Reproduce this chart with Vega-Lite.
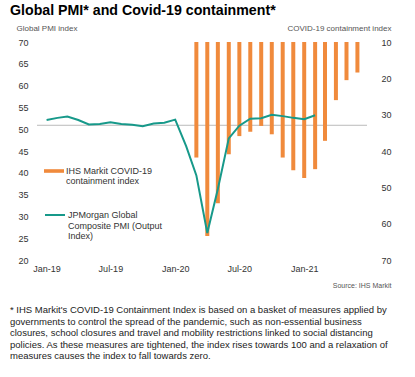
{
  "$schema": "https://vega.github.io/schema/vega-lite/v6.json",
  "padding": {"left": 10, "top": 3, "right": 5, "bottom": 5},
  "background": "white",
  "config": {
    "font": "Liberation Sans",
    "view": {"stroke": null},
    "axis": {"grid": false, "domain": false, "ticks": false, "tickSize": 0, "labelFont": "Liberation Sans", "titleFont": "Liberation Sans", "labelColor": "#333333", "titleColor": "#555555", "titleFontWeight": "normal"}
  },
  "title": {
    "text": [
      "* IHS Markit's COVID-19 Containment Index is based on a basket of measures applied by",
      "governments to control the spread of the pandemic, such as non-essential business",
      "closures, school closures and travel and mobility restrictions linked to social distancing",
      "policies. As these measures are tightened, the index rises towards 100 and a relaxation of",
      "measures causes the index to fall towards zero."
    ],
    "orient": "bottom",
    "anchor": "start",
    "frame": "bounds",
    "font": "Liberation Sans",
    "fontSize": 9.5,
    "fontWeight": "normal",
    "color": "#222222",
    "lineHeight": 11.5,
    "offset": 17
  },
  "vconcat": [
    {
      "width": 330,
      "height": 218,
      "title": {
        "text": "Global PMI* and Covid-19 containment*",
        "anchor": "start",
        "frame": "group",
        "dx": -27,
        "font": "Liberation Sans",
        "fontSize": 14.2,
        "fontWeight": "bold",
        "color": "#000000",
        "offset": 6
      },
      "layer": [
        {
          "data": {"values": [{"ref": 50.9}]},
          "mark": {"type": "rule", "color": "#BBBBBB", "strokeWidth": 1},
          "encoding": {
            "y": {"field": "ref", "type": "quantitative", "scale": {"domain": [20, 70], "nice": false, "zero": false}, "axis": null}
          }
        },
        {
          "data": {"name": "main"},
          "mark": {"type": "bar", "size": 4},
          "transform": [{"filter": "datum.cont != null"}],
          "encoding": {
            "x": {
              "field": "date",
              "type": "temporal",
              "scale": {"domain": ["2018-12-19", "2021-06-14"]},
              "axis": {
                "values": ["2019-01-01", "2019-07-01", "2020-01-01", "2020-07-01", "2021-01-01"],
                "format": "%b-%y",
                "labelFontSize": 9,
                "labelPadding": 4,
                "labelColor": "#333333",
                "title": "Source: IHS Markit",
                "titleFontSize": 7,
                "titleColor": "#555555",
                "titleAnchor": "end",
                "titleAlign": "right",
                "titleX": 354,
                "titleY": 21
              }
            },
            "y": {
              "field": "cont",
              "type": "quantitative",
              "scale": {"domain": [10, 70], "reverse": true, "nice": false, "zero": false},
              "axis": {
                "orient": "right",
                "values": [10, 20, 30, 40, 50, 60, 70],
                "labelFontSize": 9,
                "labelAlign": "right",
                "labelPadding": 24,
                "title": "COVID-19 containment index",
                "titleFontSize": 8,
                "titleAngle": 0,
                "titleAlign": "right",
                "titleBaseline": "middle",
                "titleX": 24,
                "titleY": -14
              }
            },
            "y2": {"datum": 10},
            "color": {
              "datum": "IHS Markit COVID-19|containment index",
              "type": "nominal",
              "scale": {"range": ["#F08A3C"]},
              "legend": {
                "orient": "none",
                "legendX": 7,
                "legendY": 119,
                "title": null,
                "padding": 0,
                "symbolType": "M-1,-0.18H1V0.18H-1Z",
                "symbolSize": 400,
                "symbolStrokeWidth": 0,
                "labelExpr": "split(datum.label, '|')",
                "labelFont": "Liberation Sans",
                "labelFontSize": 9,
                "labelColor": "#333333",
                "labelBaseline": "alphabetic",
                "labelLimit": 0,
                "labelOffset": 2,
                "encode": {"labels": {"update": {"dy": {"value": 3.2}, "lineHeight": {"value": 10.2}}}}
              }
            }
          }
        },
        {
          "data": {"name": "main"},
          "mark": {"type": "line", "strokeWidth": 2},
          "transform": [{"filter": "datum.pmi != null"}],
          "encoding": {
            "x": {"field": "date", "type": "temporal"},
            "y": {
              "field": "pmi",
              "type": "quantitative",
              "scale": {"domain": [20, 70], "nice": false, "zero": false},
              "axis": {
                "orient": "left",
                "values": [20, 25, 30, 35, 40, 45, 50, 55, 60, 65, 70],
                "labelFontSize": 9,
                "labelAlign": "left",
                "labelPadding": 19,
                "title": "Global PMI index",
                "titleFontSize": 8,
                "titleAngle": 0,
                "titleAlign": "left",
                "titleBaseline": "middle",
                "titleX": -21,
                "titleY": -14
              }
            },
            "stroke": {
              "datum": "JPMorgan Global|Composite PMI (Output|Index)",
              "type": "nominal",
              "scale": {"range": ["#17998A"]},
              "legend": {
                "orient": "none",
                "legendX": 7,
                "legendY": 162,
                "title": null,
                "padding": 0,
                "symbolType": "stroke",
                "symbolSize": 400,
                "symbolStrokeWidth": 2,
                "labelExpr": "split(datum.label, '|')",
                "labelFont": "Liberation Sans",
                "labelFontSize": 9,
                "labelColor": "#333333",
                "labelBaseline": "alphabetic",
                "labelLimit": 0,
                "labelOffset": 2,
                "encode": {"labels": {"update": {"dy": {"value": 3.2}, "lineHeight": {"value": 10.5}}}}
              }
            }
          }
        }
      ],
      "resolve": {"scale": {"y": "independent"}, "axis": {"y": "independent"}}
    }
  ],
  "datasets": {
    "main": [
      {"date": "2019-01-01", "pmi": 52.1, "cont": null},
      {"date": "2019-02-01", "pmi": 52.6, "cont": null},
      {"date": "2019-03-01", "pmi": 52.9, "cont": null},
      {"date": "2019-04-01", "pmi": 52.1, "cont": null},
      {"date": "2019-05-01", "pmi": 51.1, "cont": null},
      {"date": "2019-06-01", "pmi": 51.2, "cont": null},
      {"date": "2019-07-01", "pmi": 51.6, "cont": null},
      {"date": "2019-08-01", "pmi": 51.2, "cont": null},
      {"date": "2019-09-01", "pmi": 51.0, "cont": null},
      {"date": "2019-10-01", "pmi": 50.7, "cont": null},
      {"date": "2019-11-01", "pmi": 51.3, "cont": null},
      {"date": "2019-12-01", "pmi": 51.5, "cont": null},
      {"date": "2020-01-01", "pmi": 52.2, "cont": null},
      {"date": "2020-02-01", "pmi": 46.1, "cont": null},
      {"date": "2020-03-01", "pmi": 39.4, "cont": 41.8},
      {"date": "2020-04-01", "pmi": 26.2, "cont": 63.4},
      {"date": "2020-05-01", "pmi": 36.3, "cont": 54.4},
      {"date": "2020-06-01", "pmi": 47.9, "cont": 40.9},
      {"date": "2020-07-01", "pmi": 50.8, "cont": 35.9},
      {"date": "2020-08-01", "pmi": 52.4, "cont": 34.7},
      {"date": "2020-09-01", "pmi": 52.5, "cont": 33.1},
      {"date": "2020-10-01", "pmi": 53.3, "cont": 35.4},
      {"date": "2020-11-01", "pmi": 53.0, "cont": 41.8},
      {"date": "2020-12-01", "pmi": 52.6, "cont": 45.3},
      {"date": "2021-01-01", "pmi": 52.3, "cont": 47.4},
      {"date": "2021-02-01", "pmi": 53.2, "cont": 45.0},
      {"date": "2021-03-01", "pmi": null, "cont": 37.2},
      {"date": "2021-04-01", "pmi": null, "cont": 26.0},
      {"date": "2021-05-01", "pmi": null, "cont": 20.5},
      {"date": "2021-06-01", "pmi": null, "cont": 18.4}
    ]
  }
}
